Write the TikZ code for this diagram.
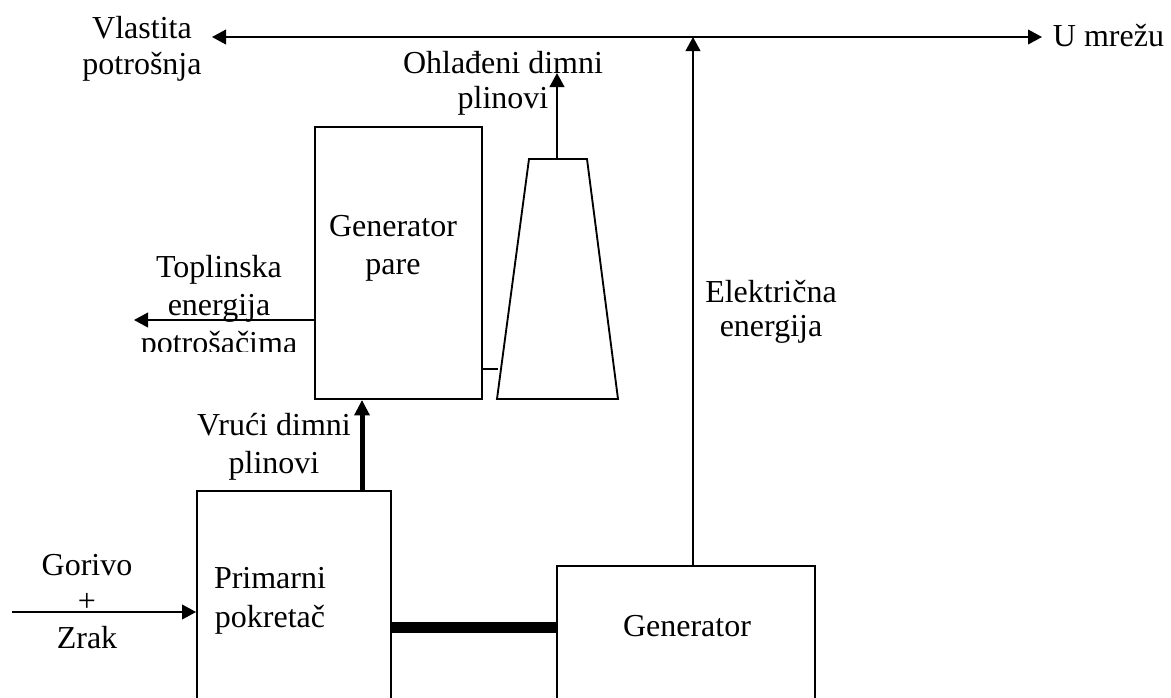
\documentclass[tikz,border=0pt]{standalone}
\usepackage{fontspec}
\setmainfont{Liberation Serif}
\usetikzlibrary{arrows.meta}
\begin{document}
\begin{tikzpicture}[x=0.75pt,y=-0.75pt,
  line width=1.4pt,
  lbl/.style={inner sep=0pt,align=center,anchor=north},
  box/.style={draw,rectangle,inner sep=0pt},
  arr/.style={-{Triangle[length=10.5pt,width=11pt]}},
  thickarr/.style={line width=3.75pt,-{Triangle[length=11.5pt,width=11pt]}},
  shaft/.style={line width=8.25pt}]
\useasboundingbox (0,0) rectangle (1171,697);

% boxes
\node[box,minimum width=125.25pt,minimum height=204pt] (gp) at (398.5,263) {};
\node[box,minimum width=145.5pt,minimum height=216.75pt] (prim) at (294,635.5) {};
\node[box,minimum width=193.5pt,minimum height=160.5pt] (gen) at (686,673) {};

% trapezoid (heat recovery / stack)
\coordinate (t1) at (529,159);
\coordinate (t2) at (587,159);
\coordinate (t3) at (618,399);
\coordinate (t4) at (497,399);
\coordinate (ttop) at (557,159);
\draw (t1) -- (t2) -- (t3) -- (t4) -- cycle;

% texts
\node[lbl,font=\fontsize{24}{27}\selectfont] (vl) at (142,15) {Vlastita\\potrošnja};
\node[inner sep=0pt,anchor=base west,font=\fontsize{24}{27}\selectfont] (um) at (1052,46) {U mrežu};
\node[lbl,font=\fontsize{24}{26.25}\selectfont] (ohl) at (503,50) {Ohlađeni dimni\\plinovi};
\node[lbl,font=\fontsize{24}{28.5}\selectfont] (gptxt) at (393,214) {Generator\\pare};
\begin{scope}
\clip (100,240) rectangle (314,351);
\node[lbl,font=\fontsize{24}{28.5}\selectfont] (topl) at (219,254) {Toplinska\\energija\\potrošačima};
\end{scope}
\node[lbl,font=\fontsize{24}{28.5}\selectfont] (vruci) at (274,412) {Vrući dimni\\plinovi};
\node[lbl,font=\fontsize{24}{27.4}\selectfont] (gor) at (87,553) {Gorivo\\+\\Zrak};
\node[lbl,font=\fontsize{24}{29.25}\selectfont] (primtxt) at (270,566) {Primarni\\pokretač};
\node[lbl,font=\fontsize{24}{25.5}\selectfont] (elek) at (771,279) {Električna\\energija};
\node[inner sep=0pt,anchor=base,font=\fontsize{24}{27}\selectfont] (gentxt) at (687,636) {Generator};

% connector coordinates
\coordinate (lt) at (212,37);
\coordinate (rt) at (1042,37);
\coordinate (jn) at (693,37);
\coordinate (ohlend) at (557,73);
\coordinate (toplend) at (134,320);
\coordinate (inpstart) at (12,612);
\coordinate (trapleft) at (498,369);

% connectors
\draw[{Triangle[length=10.5pt,width=11pt]}-{Triangle[length=10.5pt,width=11pt]}] (lt) -- (rt);
\draw[arr] (693,0 |- gen.north) -- (jn);
\draw[arr] (ttop) -- (ohlend);
\draw (gp.east |- trapleft) -- (trapleft);
\draw[arr] (gp.west |- toplend) -- (toplend);
\draw[thickarr] (362,0 |- prim.north) -- (362,0 |- gp.south);
\draw[arr] (inpstart) -- (prim.west |- inpstart);
\draw[shaft] (prim.east |- 0,627) -- (gen.west |- 0,627);
\end{tikzpicture}
\end{document}
